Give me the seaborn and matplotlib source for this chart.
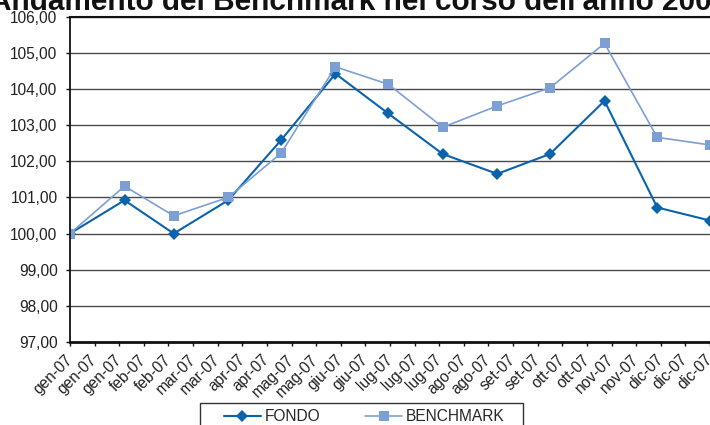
import numpy as np
import pandas as pd
import matplotlib
matplotlib.use('Agg')
import matplotlib.pyplot as plt
import matplotlib.dates as mdates
from matplotlib.patches import Rectangle
from matplotlib.ticker import FuncFormatter, MultipleLocator
import seaborn as sns

# Data
dates = ['2007-01-01', '2007-02-01', '2007-03-01', '2007-04-01', '2007-05-01',
         '2007-06-01', '2007-07-01', '2007-08-01', '2007-09-01', '2007-10-01',
         '2007-11-01', '2007-12-01', '2007-12-31']
fondo = [100.00, 100.92, 100.00, 100.92, 102.58, 104.42, 103.32,
         102.20, 101.65, 102.20, 103.67, 100.72, 100.36]
benchmark = [100.00, 101.31, 100.49, 101.00, 102.22, 104.61, 104.13,
             102.94, 103.53, 104.03, 105.26, 102.66, 102.45]
mesi = ['gen', 'feb', 'mar', 'apr', 'mag', 'giu',
        'lug', 'ago', 'set', 'ott', 'nov', 'dic']

df = pd.DataFrame({'data': pd.to_datetime(dates), 'FONDO': fondo,
                   'BENCHMARK': benchmark})

sns.set_style("white")
plt.rcParams['font.family'] = ['Liberation Sans', 'DejaVu Sans']

fig = plt.figure(figsize=(7.1, 4.25), dpi=100)
ax = fig.add_axes([70 / 710, 83 / 425, 640 / 710, 325.4 / 425])

c_fondo = '#0B63AC'
c_bench = '#7C9FD5'

sns.lineplot(data=df, x='data', y='FONDO', ax=ax, color=c_fondo, lw=1.5,
             marker='D', markersize=6, markeredgewidth=0, label='FONDO')
sns.lineplot(data=df, x='data', y='BENCHMARK', ax=ax, color=c_bench, lw=1.2,
             marker='s', markersize=7, markeredgewidth=0, label='BENCHMARK')

# Axes
ax.set_ylim(97, 106)
ax.yaxis.set_major_locator(MultipleLocator(1))
ax.yaxis.set_major_formatter(FuncFormatter(lambda v, p: f'{v:.2f}'.replace('.', ',')))
ax.grid(axis='y', color='#4a4a4a', lw=1.0)
ax.set_axisbelow(True)

ticks = pd.date_range('2007-01-01', '2007-12-31', freq='14D')
ax.set_xlim(ticks[0], ticks[-1])
ax.set_xticks(ticks)
ax.xaxis.set_major_formatter(FuncFormatter(
    lambda v, p: mesi[mdates.num2date(v).month - 1] + '-07'))

ax.tick_params(axis='both', labelsize=11.2, labelcolor='#222222', color='#111111',
               length=3, width=1, direction='out')
ax.tick_params(axis='x', bottom=True, pad=8)
ax.tick_params(axis='y', left=True, pad=6)
plt.setp(ax.get_xticklabels(), rotation=45, ha='right', va='center',
         rotation_mode='anchor')
ax.set_xlabel('')
ax.set_ylabel('')
for s in ['left', 'bottom', 'top']:
    ax.spines[s].set_color('#111111')
ax.spines['left'].set_linewidth(1.3)
ax.spines['bottom'].set_linewidth(2)
ax.spines['top'].set_linewidth(1.5)
ax.spines['right'].set_visible(False)

# Legend at the bottom (box cropped by the image edge)
ax.get_legend().remove()
h, l = ax.get_legend_handles_labels()
fig.patches.append(Rectangle((200 / 710, -10 / 425), 323 / 710, 32 / 425,
                             transform=fig.transFigure, fill=False,
                             edgecolor='#333333', lw=1.0))
fig.legend(h, l, loc='center left', bbox_to_anchor=(224 / 710, 1 - 416.7 / 425),
           ncol=2, fontsize=11.2, frameon=False, borderpad=0, borderaxespad=0,
           handlelength=2.35, handletextpad=0.27, columnspacing=2.9)

# Title (cropped at the top in the original)
fig.text(0.506, 1 - 10 / 425, "Andamento del Benchmark nel corso dell'anno 2007",
         ha='center', va='baseline', fontsize=21.4, fontweight='bold', color='#111111')

plt.savefig('out.png', dpi=100)
